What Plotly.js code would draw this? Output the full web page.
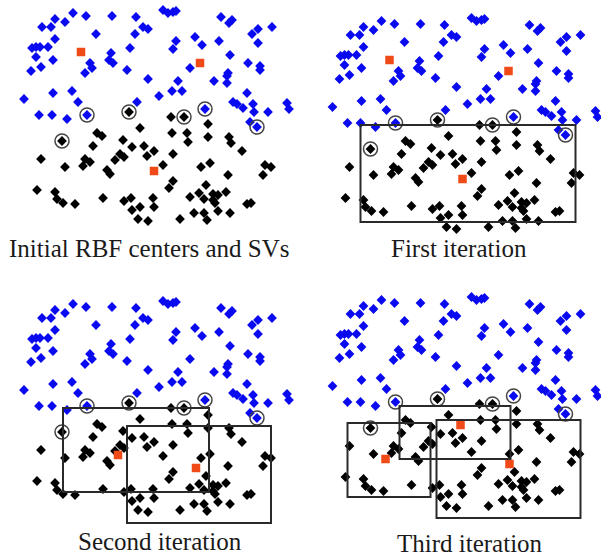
<!DOCTYPE html>
<html><head><meta charset="utf-8">
<script src="https://cdn.plot.ly/plotly-3.0.1.min.js"></script>
<style>html,body{margin:0;padding:0;background:#fff}</style>
</head><body><div id="chart" style="width:601px;height:558px"></div>
<script>
// Data coordinates (common point set, same units in every panel)
const blueX = [163,168,173,176,73,86,112,136,55,65,42,51,143,148,96,135,221,229,232,252,258,272,195,202,176,219,258,55,32,36,40,48,36,53,41,31,130,173,111,109,113,90,92,85,127,190,230,248,260,260,228,227,293,148,178,214,227,53,72,24,78,137,159,172,182,247,233,237,243,253,254,268,287,289,39,52,67,87,205,257,250];
const blueY = [10,13,12,11,13,16,16,17,19,22,27,27,27,29,34,34,17,23,20,34,29,27,37,45,41,41,43,39,48,47,47,47,57,60,67,71,48,49,53,60,63,63,68,73,70,68,55,63,66,70,73,76,77,79,81,81,83,93,91,99,102,102,96,91,91,93,102,104,108,104,112,112,103,109,115,115,119,115,109,127,122];
const blackX = [129,184,62,171,140,208,97,102,172,187,188,208,229,231,123,93,132,144,154,147,173,120,124,115,85,90,83,41,65,107,110,163,201,210,242,265,271,263,228,173,169,206,199,204,213,218,226,215,213,190,37,55,57,63,75,103,124,131,132,140,153,154,138,148,180,194,204,207,218,230,247,251];
const blackY = [112,117,141,117,128,124,133,136,133,133,142,137,137,143,140,146,147,146,151,156,154,154,157,160,159,162,166,159,167,170,174,165,167,163,151,165,167,175,175,181,188,185,193,199,194,195,192,203,200,197,190,192,199,203,204,198,201,198,210,207,198,207,219,221,219,213,213,220,211,213,204,203];
const svX = [87,205,257,129,184,62];
const svY = [115,109,127,112,117,141];
// RBF centres per panel
const centers1X = [81,200,154], centers1Y = [52,63,171];
const centers2X = [81,200,154], centers2Y = [52,63,171];
const centers3X = [118,196], centers3Y = [164,177];
const centers4X = [152,77,201], centers4Y = [138,172,177];
// Regions per panel [x0,y0,x1,y1]
const regions2 = [[52,117,267,214]];
const regions3 = [[63,117,209,201],[127,135,271,232]];
const regions4 = [[39,136,122,210],[91,119,202,172],[128,133,272,231]];
const panelTitles = ["Initial RBF centers and SVs","First iteration","Second iteration","Third iteration"];

const W = 601, H = 558, XR = 292, YR = 238;
const offsets = [[0,0],[308.5,8],[0,291],[308.5,287]];
const centersX = [centers1X, centers2X, centers3X, centers4X];
const centersY = [centers1Y, centers2Y, centers3Y, centers4Y];
const regions = [[], regions2, regions3, regions4];

const traces = [], shapes = [], annotations = [];
const layout = {width: W, height: H, margin:{l:0,r:0,t:0,b:0}, showlegend:false,
  paper_bgcolor:'#fff', plot_bgcolor:'rgba(0,0,0,0)'};

offsets.forEach((o, i) => {
  const k = i === 0 ? '' : String(i+1);
  const xa = 'x'+k, ya = 'y'+k;
  layout['xaxis'+k] = {domain:[o[0]/W, (o[0]+XR)/W], range:[0,XR], visible:false, fixedrange:true};
  layout['yaxis'+k] = {domain:[1-(o[1]+YR)/H, 1-o[1]/H], range:[YR,0], visible:false, fixedrange:true};
  traces.push({type:'scatter', mode:'markers', x:blueX, y:blueY, xaxis:xa, yaxis:ya, cliponaxis:false,
    marker:{symbol:'diamond', size:7.5, color:'#0a0af0'}});
  traces.push({type:'scatter', mode:'markers', x:blackX, y:blackY, xaxis:xa, yaxis:ya, cliponaxis:false,
    marker:{symbol:'diamond', size:7.5, color:'#000'}});
  traces.push({type:'scatter', mode:'markers', x:svX, y:svY, xaxis:xa, yaxis:ya, cliponaxis:false,
    marker:{symbol:'circle-open', size:14, color:'#444', line:{width:1.5, color:'#444'}}});
  traces.push({type:'scatter', mode:'markers', x:centersX[i], y:centersY[i], xaxis:xa, yaxis:ya, cliponaxis:false,
    marker:{symbol:'square', size:8.5, color:'#f04a18'}});
  regions[i].forEach(r => shapes.push({type:'rect', xref:xa, yref:ya, x0:r[0], y0:r[1], x1:r[2], y1:r[3],
    line:{color:'#2a2a2a', width:2}}));
});
layout.shapes = shapes;
const titlePos = [[149,258],[459,258],[160,551],[470,553]];
panelTitles.forEach((t, i) => annotations.push({text:t, xref:'paper', yref:'paper', showarrow:false,
  x: titlePos[i][0]/W, y: 1 - titlePos[i][1]/H, xanchor:'center', yanchor:'bottom', yshift:-6,
  font:{family:'Liberation Serif, serif', size:25, color:'#1a1a1a'}}));
layout.annotations = annotations;
Plotly.newPlot('chart', traces, layout, {staticPlot:true, displayModeBar:false});
</script></body></html>
